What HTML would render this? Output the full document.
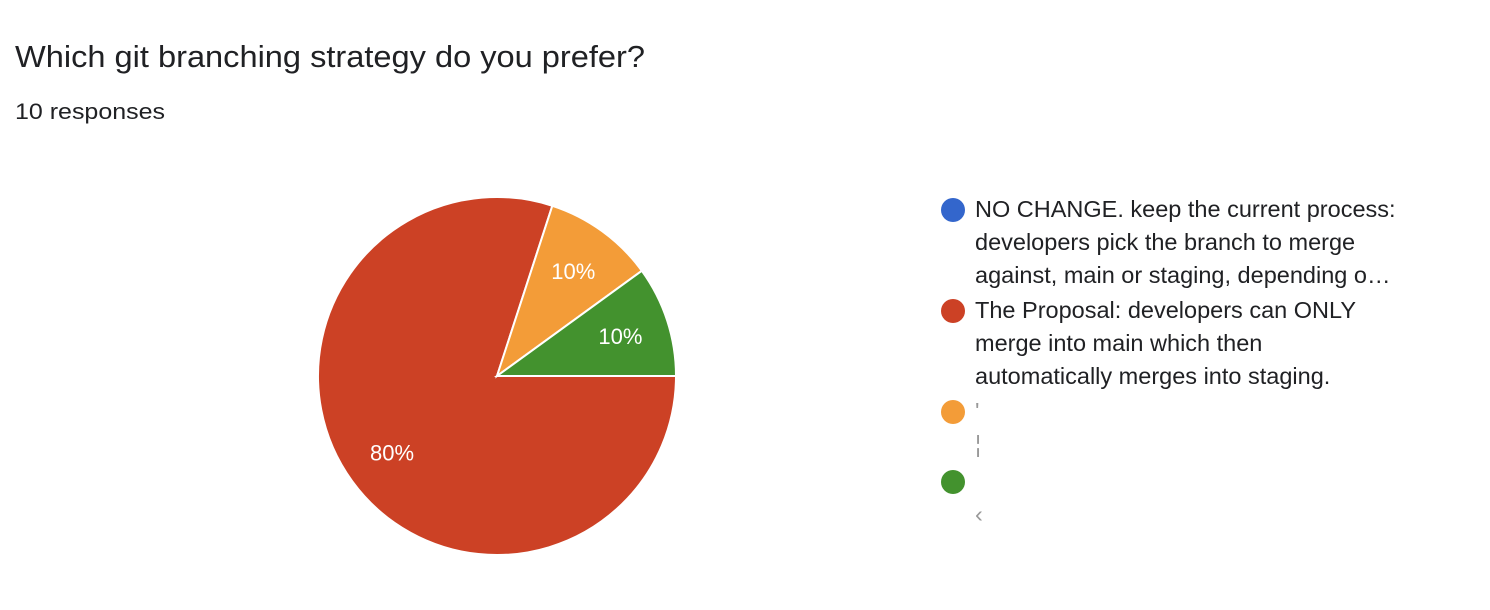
<!DOCTYPE html>
<html><head><meta charset="utf-8"><style>
html,body{margin:0;padding:0;background:#fff;width:1490px;height:610px;overflow:hidden}
svg{display:block;font-family:"Liberation Sans",sans-serif}
</style></head><body>
<svg id="chart" width="1490" height="610">
<text x="15" y="67" font-size="31" fill="#202124" textLength="630" lengthAdjust="spacingAndGlyphs">Which git branching strategy do you prefer?</text>
<text x="15" y="119" font-size="22" fill="#202124" textLength="150" lengthAdjust="spacingAndGlyphs">10 responses</text>
<g id="slices"></g>
<g id="legend"></g>
</svg>
<script>
const categories=["NO CHANGE. keep the current process: developers pick the branch to merge against, main or staging, depending o…","The Proposal: developers can ONLY merge into main which then automatically merges into staging.","",""];
const values=[0,8,1,1];
const colors=["#3366cc","#cc4125","#f39c38","#43922e"];
const legendLines=[["NO CHANGE. keep the current process:","developers pick the branch to merge","against, main or staging, depending o…"],["The Proposal: developers can ONLY","merge into main which then","automatically merges into staging."],["'","¦"],["","‹"]];
const NS="http://www.w3.org/2000/svg";
const cx=497,cy=376,r=179;
const total=values.reduce((a,b)=>a+b,0);
const sg=document.getElementById('slices');
let a0=0;
values.forEach((v,i)=>{
  if(v<=0)return;
  const a1=a0+v/total*2*Math.PI;
  const x0=cx+r*Math.cos(a0),y0=cy+r*Math.sin(a0),x1=cx+r*Math.cos(a1),y1=cy+r*Math.sin(a1);
  const p=document.createElementNS(NS,'path');
  p.setAttribute('d',`M${cx},${cy}L${x0},${y0}A${r},${r} 0 ${a1-a0>Math.PI?1:0} 1 ${x1},${y1}Z`);
  p.setAttribute('fill',colors[i]);p.setAttribute('stroke','#fff');p.setAttribute('stroke-width','2');
  
  
  sg.appendChild(p);
  const am=(a0+a1)/2,lr=r*0.725;
  const t=document.createElementNS(NS,'text');
  t.setAttribute('x',cx+lr*Math.cos(am));t.setAttribute('y',cy+lr*Math.sin(am)+8);
  t.setAttribute('text-anchor','middle');t.setAttribute('font-size','22');t.setAttribute('fill','#fff');
  t.textContent=Math.round(v/total*100)+'%';
  
  
  sg.appendChild(t);
  a0=a1;
});
const lg=document.getElementById('legend');
const dotY=[210,311,412,482];
legendLines.forEach((lines,i)=>{
  const g=document.createElementNS(NS,'g');
  
  
  const c=document.createElementNS(NS,'circle');
  c.setAttribute('cx',953);c.setAttribute('cy',dotY[i]);c.setAttribute('r',12);c.setAttribute('fill',colors[i]);
  g.appendChild(c);
  lines.forEach((ln,j)=>{
    const t=document.createElementNS(NS,'text');
    t.setAttribute('x',975);t.setAttribute('y',dotY[i]+7+j*33);
    t.setAttribute('font-size','23.5');t.setAttribute('fill',i<2?'#202124':'#999');
    t.textContent=ln;
    g.appendChild(t);
  });
  lg.appendChild(g);
});
</script>
</body></html>
